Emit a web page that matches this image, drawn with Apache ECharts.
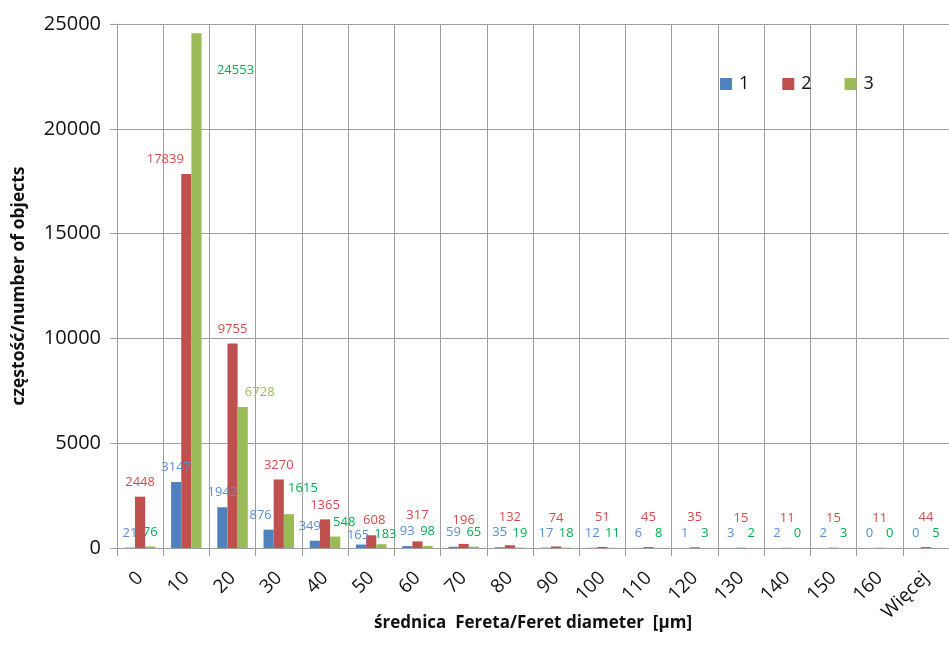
<!DOCTYPE html>
<html>
<head>
<meta charset="utf-8">
<script src="https://cdn.jsdelivr.net/npm/echarts@6/dist/echarts.min.js"></script>
<style>html,body{margin:0;padding:0;background:#fff;}#c{width:949px;height:659px;}</style>
</head>
<body>
<div id="c"></div>
<script>
const categories = ['0','10','20','30','40','50','60','70','80','90','100','110','120','130','140','150','160','Więcej'];
const series1 = [21,3147,1942,876,349,165,93,59,35,17,12,6,1,3,2,2,0,0];
const series2 = [2448,17839,9755,3270,1365,608,317,196,132,74,51,45,35,15,11,15,11,44];
const series3 = [76,24553,6728,1615,548,183,98,65,19,18,11,8,3,2,0,3,0,5];
const seriesNames = ['1','2','3'];
const yTicks = { min: 0, max: 25000, interval: 5000 };

// label nudges (pixels) applied to data labels, matching the reference's hand-placed labels
const shift1 = [[0,0],[0,0],[0,0],[-8,0],[-5,0],[-3,5],[0,0],[0,0],[0,0],[0,0],[0,0],[0,0],[0,0],[0,0],[0,0],[0,0],[0,0],[0,0]];
const shift2 = [[0,0],[-21,0],[0,0],[0,0],[0,0],[3,0],[0,-12],[0,-9],[0,-13],[0,-14],[0,-15],[0,-15],[0,-15],[0,-15],[0,-15],[0,-15],[0,-15],[0,-15]];
const shift3 = [[0,0],[39,51],[17,0],[14,-11],[9,0],[4,5],[0,0],[0,0],[0,0],[0,0],[0,0],[0,0],[0,0],[0,0],[0,0],[0,0],[0,0],[0,0]];

const barColors = ['#4F81BD','#C0504D','#9BBB59'];
const labelColors = ['#5B8ED6','#D84A4A','#00B050'];
const FONT = 'Open Sans';
const GRID = '#9E9E9E';

function mk(vals, shifts, idx) {
  return vals.map((v, i) => {
    const lab = { offset: shifts[i] };
    if (idx === 2 && i === 2) lab.color = '#9BBB59';
    return { value: v, label: lab };
  });
}

const chart = echarts.init(document.getElementById('c'), null, {renderer: 'canvas'});
const all = [series1, series2, series3];
const shifts = [shift1, shift2, shift3];

chart.setOption({
  animation: false,
  backgroundColor: '#ffffff',
  textStyle: { fontFamily: FONT },
  grid: { left: 117, top: 24, bottom: 111, right: -12, containLabel: false },
  legend: {
    data: seriesNames,
    left: 715, top: 70,
    itemWidth: 12, itemHeight: 12, itemGap: 33,
    icon: 'rect',
    textStyle: { fontFamily: FONT, fontSize: 18, color: '#111', padding: [0,0,0,2] }
  },
  xAxis: {
    type: 'category',
    data: categories,
    boundaryGap: true,
    name: 'średnica  Fereta/Feret diameter  [µm]',
    nameLocation: 'middle',
    nameGap: 67,
    nameMoveOverlap: false,
    nameTextStyle: { fontFamily: FONT, fontSize: 17, fontWeight: 'bold', color: '#111' },
    axisLine: { show: true, lineStyle: { color: GRID, width: 1 } },
    axisTick: { show: true, length: 8, interval: 0, lineStyle: { color: GRID } },
    splitLine: { show: true, interval: 0, lineStyle: { color: GRID, width: 1 } },
    axisLabel: { interval: 0, rotate: 45, margin: 27, fontSize: 19, color: '#111', fontFamily: FONT }
  },
  yAxis: {
    type: 'value',
    min: yTicks.min, max: yTicks.max, interval: yTicks.interval,
    name: 'częstość/number of objects',
    nameLocation: 'middle',
    nameGap: 89,
    nameMoveOverlap: false,
    nameTextStyle: { fontFamily: FONT, fontSize: 17.5, fontWeight: 'bold', color: '#111' },
    axisLine: { show: true, lineStyle: { color: GRID, width: 1 } },
    axisTick: { show: true, length: 7, lineStyle: { color: GRID } },
    splitLine: { show: true, lineStyle: { color: GRID, width: 1 } },
    axisLabel: { margin: 16, fontSize: 20, color: '#111', fontFamily: FONT, formatter: (v) => String(v) }
  },
  series: all.map((vals, idx) => ({
    name: seriesNames[idx],
    type: 'bar',
    data: mk(vals, shifts[idx], idx),
    barGap: '0%',
    barCategoryGap: '34%',
    itemStyle: { color: barColors[idx] },
    label: {
      show: true, position: 'top', distance: 8,
      fontSize: 13, fontFamily: FONT, color: labelColors[idx]
    }
  }))
});
</script>
</body>
</html>
